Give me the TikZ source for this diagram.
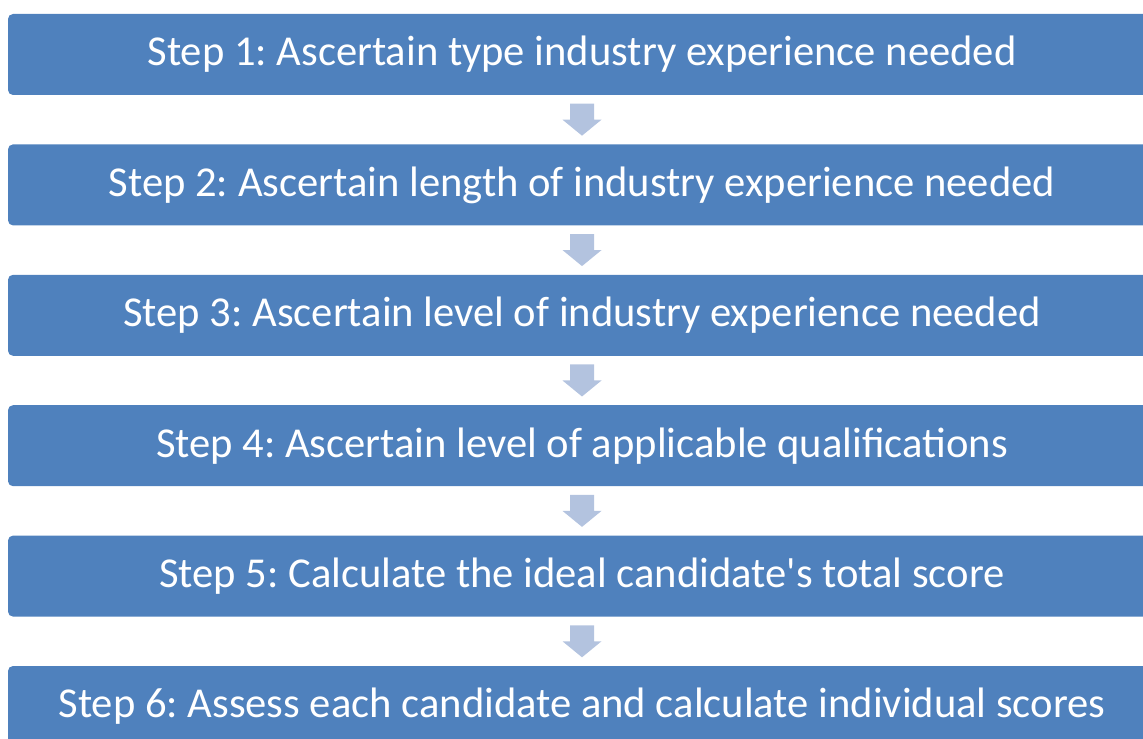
\documentclass[tikz,border=0pt]{standalone}
\usepackage{fontspec}
\setmainfont{Carlito}
\usetikzlibrary{calc,positioning}
\definecolor{stepblue}{HTML}{4F81BD}
\definecolor{arrowblue}{HTML}{B3C3DF}
\tikzstyle{stepbox}=[rectangle,fill=stepblue,rounded corners=2.5pt,minimum width=574pt,minimum height=40.5pt,inner sep=0pt,text=white,font=\fontsize{21.3}{24}\selectfont]
\tikzstyle{downarrow}=[fill=arrowblue]
\frenchspacing

\begin{document}
\begin{tikzpicture}[x=0.5pt,y=0.5pt]

    \useasboundingbox (0,0) rectangle (1143,738);
    \clip (0,0) rectangle (1143,738);

    % the six steps, top to bottom
    \foreach \pos/ \name / \label in {{(582,683.5)/s1/Step 1: Ascertain type industry experience needed},
                                      {(582,553.1)/s2/Step 2: Ascertain length of industry experience needed},
                                      {(582,422.7)/s3/Step 3: Ascertain level of industry experience needed},
                                      {(582,292.3)/s4/Step 4: Ascertain level of applicable qualifications},
                                      {(582,161.9)/s5/Step 5: Calculate the ideal candidate\textquotesingle s total score},
                                      {(582,31.5)/s6/Step 6: Assess each candidate and calculate individual scores}}
        \node[stepbox] (\name) at \pos {\raisebox{-1.5pt}{\label}};

    % block arrows in the gaps
    \foreach \source/ \dest in {s1/s2, s2/s3, s3/s4, s4/s5, s5/s6} {
        \coordinate (m\source) at ($(\source.south)!0.5!(\dest.north)$);
        \fill[downarrow] ($(m\source)+(-12,16)$) -- ($(m\source)+(12,16)$) -- ($(m\source)+(12,0)$)
            -- ($(m\source)+(19.5,0)$) -- ($(m\source)+(0,-16)$) -- ($(m\source)+(-19.5,0)$)
            -- ($(m\source)+(-12,0)$) -- cycle;
    }

\end{tikzpicture}
\end{document}
